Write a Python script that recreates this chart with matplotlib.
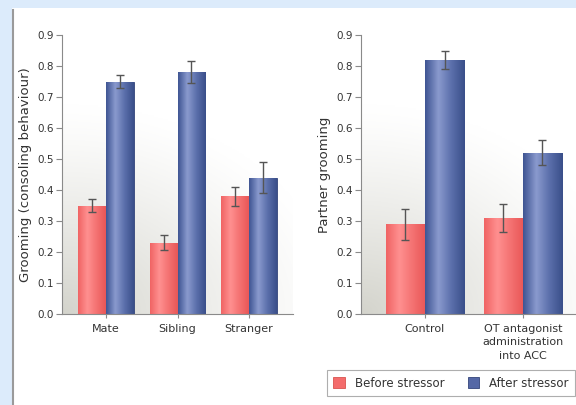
import numpy as np
import matplotlib
matplotlib.use("Agg")
from matplotlib import pyplot as plt
from matplotlib.patches import Rectangle, Patch

plt.rcParams['font.family'] = ['DejaVu Sans']

# data
left_groups = ['Mate', 'Sibling', 'Stranger']
left_before = [0.35, 0.23, 0.38]
left_before_err = [0.02, 0.025, 0.03]
left_after = [0.75, 0.78, 0.44]
left_after_err = [0.02, 0.035, 0.05]

right_groups = ['Control', 'OT antagonist\nadministration\ninto ACC']
right_before = [0.29, 0.31]
right_before_err = [0.05, 0.045]
right_after = [0.82, 0.52]
right_after_err = [0.03, 0.04]

yticks = [0.0, 0.1, 0.2, 0.3, 0.4, 0.5, 0.6, 0.7, 0.8, 0.9]

red_edge = '#d9534f'
blue_edge = '#33447a'
red_grad = ['#f06464', '#ff9090', '#f47272', '#e95757']
blue_grad = ['#3f5593', '#8a9ace', '#5b6fab', '#3a4f8a']
spine_c = '#8a8a8a'
text_c = '#333333'


def shade(ax, bars, cols):
    cm = matplotlib.colors.LinearSegmentedColormap.from_list('g', cols)
    grad = np.linspace(0, 1, 64).reshape(1, -1)
    for b in bars:
        x0, w, h = b.get_x(), b.get_width(), b.get_height()
        im = ax.imshow(grad, cmap=cm, extent=[x0, x0 + w, 0, h],
                       aspect='auto', zorder=2, interpolation='bicubic')
        im.set_clip_path(b)


def backdrop(ax):
    xx, yy = np.meshgrid(np.linspace(0, 1, 200), np.linspace(0, 1, 200))
    wgt = np.clip(1 - np.sqrt((xx / 1.2) ** 2 + (yy / 0.75) ** 2), 0, 1) ** 1.2
    img = np.ones((200, 200, 3))
    gray = np.array([0.83, 0.83, 0.80])
    for k in range(3):
        img[:, :, k] = 1 - wgt * (1 - gray[k])
    ax.imshow(img, extent=[0, 1, 0, 1], transform=ax.transAxes,
              origin='lower', aspect='auto', zorder=0)


def panel(ax, groups, before, berr, after, aerr, w, xlim, ylabel):
    x = np.arange(len(groups))
    backdrop(ax)
    b1 = ax.bar(x - w / 2, before, w, color=red_grad[0], edgecolor=red_edge,
                linewidth=0.6, zorder=1)
    b2 = ax.bar(x + w / 2, after, w, color=blue_grad[0], edgecolor=blue_edge,
                linewidth=0.6, zorder=1)
    shade(ax, b1, red_grad)
    shade(ax, b2, blue_grad)
    ekw = dict(fmt='none', ecolor='#555555', elinewidth=1.0, capsize=3,
               capthick=1.0, zorder=4)
    ax.errorbar(x - w / 2, before, yerr=berr, **ekw)
    ax.errorbar(x + w / 2, after, yerr=aerr, **ekw)
    ax.set_xlim(*xlim)
    ax.set_ylim(0, 0.9)
    ax.set_yticks(yticks)
    ax.set_yticklabels(['%.1f' % v for v in yticks], fontsize=7.5, color=text_c)
    ax.set_xticks(x)
    ax.set_xticklabels(groups, fontsize=8, color=text_c, linespacing=1.45)
    ax.set_ylabel(ylabel, fontsize=9.5, color=text_c, labelpad=4)
    for s in ['top', 'right']:
        ax.spines[s].set_visible(False)
    for s in ['left', 'bottom']:
        ax.spines[s].set_color(spine_c)
        ax.spines[s].set_linewidth(0.8)
    ax.tick_params(axis='y', length=4, width=0.8, color=spine_c, pad=2)
    ax.tick_params(axis='x', length=3, width=0.8, color=spine_c, pad=4)
    ax.set_facecolor('none')
    return b1, b2


fig = plt.figure(figsize=(5.76, 4.05), dpi=100)
fig.patch.set_facecolor('#dcebfb')
fig.patches.append(Rectangle((12 / 576, 0), 1, (405 - 8) / 405, transform=fig.transFigure,
                             facecolor='white', edgecolor='none', zorder=-10))
fig.lines.append(plt.Line2D([13 / 576, 13 / 576], [0, (405 - 10) / 405],
                            transform=fig.transFigure, color='#9a9a9a', lw=1.5,
                            zorder=-9))

ax1 = fig.add_axes([62 / 576, 91 / 405, 231 / 576, 279 / 405])
panel(ax1, left_groups, left_before, left_before_err, left_after, left_after_err,
      0.39, (-0.615, 2.615), 'Grooming (consoling behaviour)')

ax2 = fig.add_axes([361 / 576, 91 / 405, 0.38, 279 / 405])
panel(ax2, right_groups, right_before, right_before_err, right_after, right_after_err,
      0.4, (-0.653, 1.582), 'Partner grooming')

handles = [Patch(facecolor='#f46c6c', edgecolor=red_edge, lw=0.6),
           Patch(facecolor='#5568a6', edgecolor=blue_edge, lw=0.6)]
leg = fig.legend(handles, ['Before stressor', 'After stressor'], loc='lower left',
                 bbox_to_anchor=(321 / 576, 3 / 405), ncol=2, fontsize=8.5,
                 frameon=True, fancybox=False, handlelength=0.95, handleheight=0.95,
                 handletextpad=0.85, columnspacing=2.0, borderpad=0.55,
                 labelcolor=text_c)
leg.get_frame().set_edgecolor('#9a9a9a')
leg.get_frame().set_linewidth(0.8)

fig.savefig('out.png', dpi=100, facecolor=fig.get_facecolor())
